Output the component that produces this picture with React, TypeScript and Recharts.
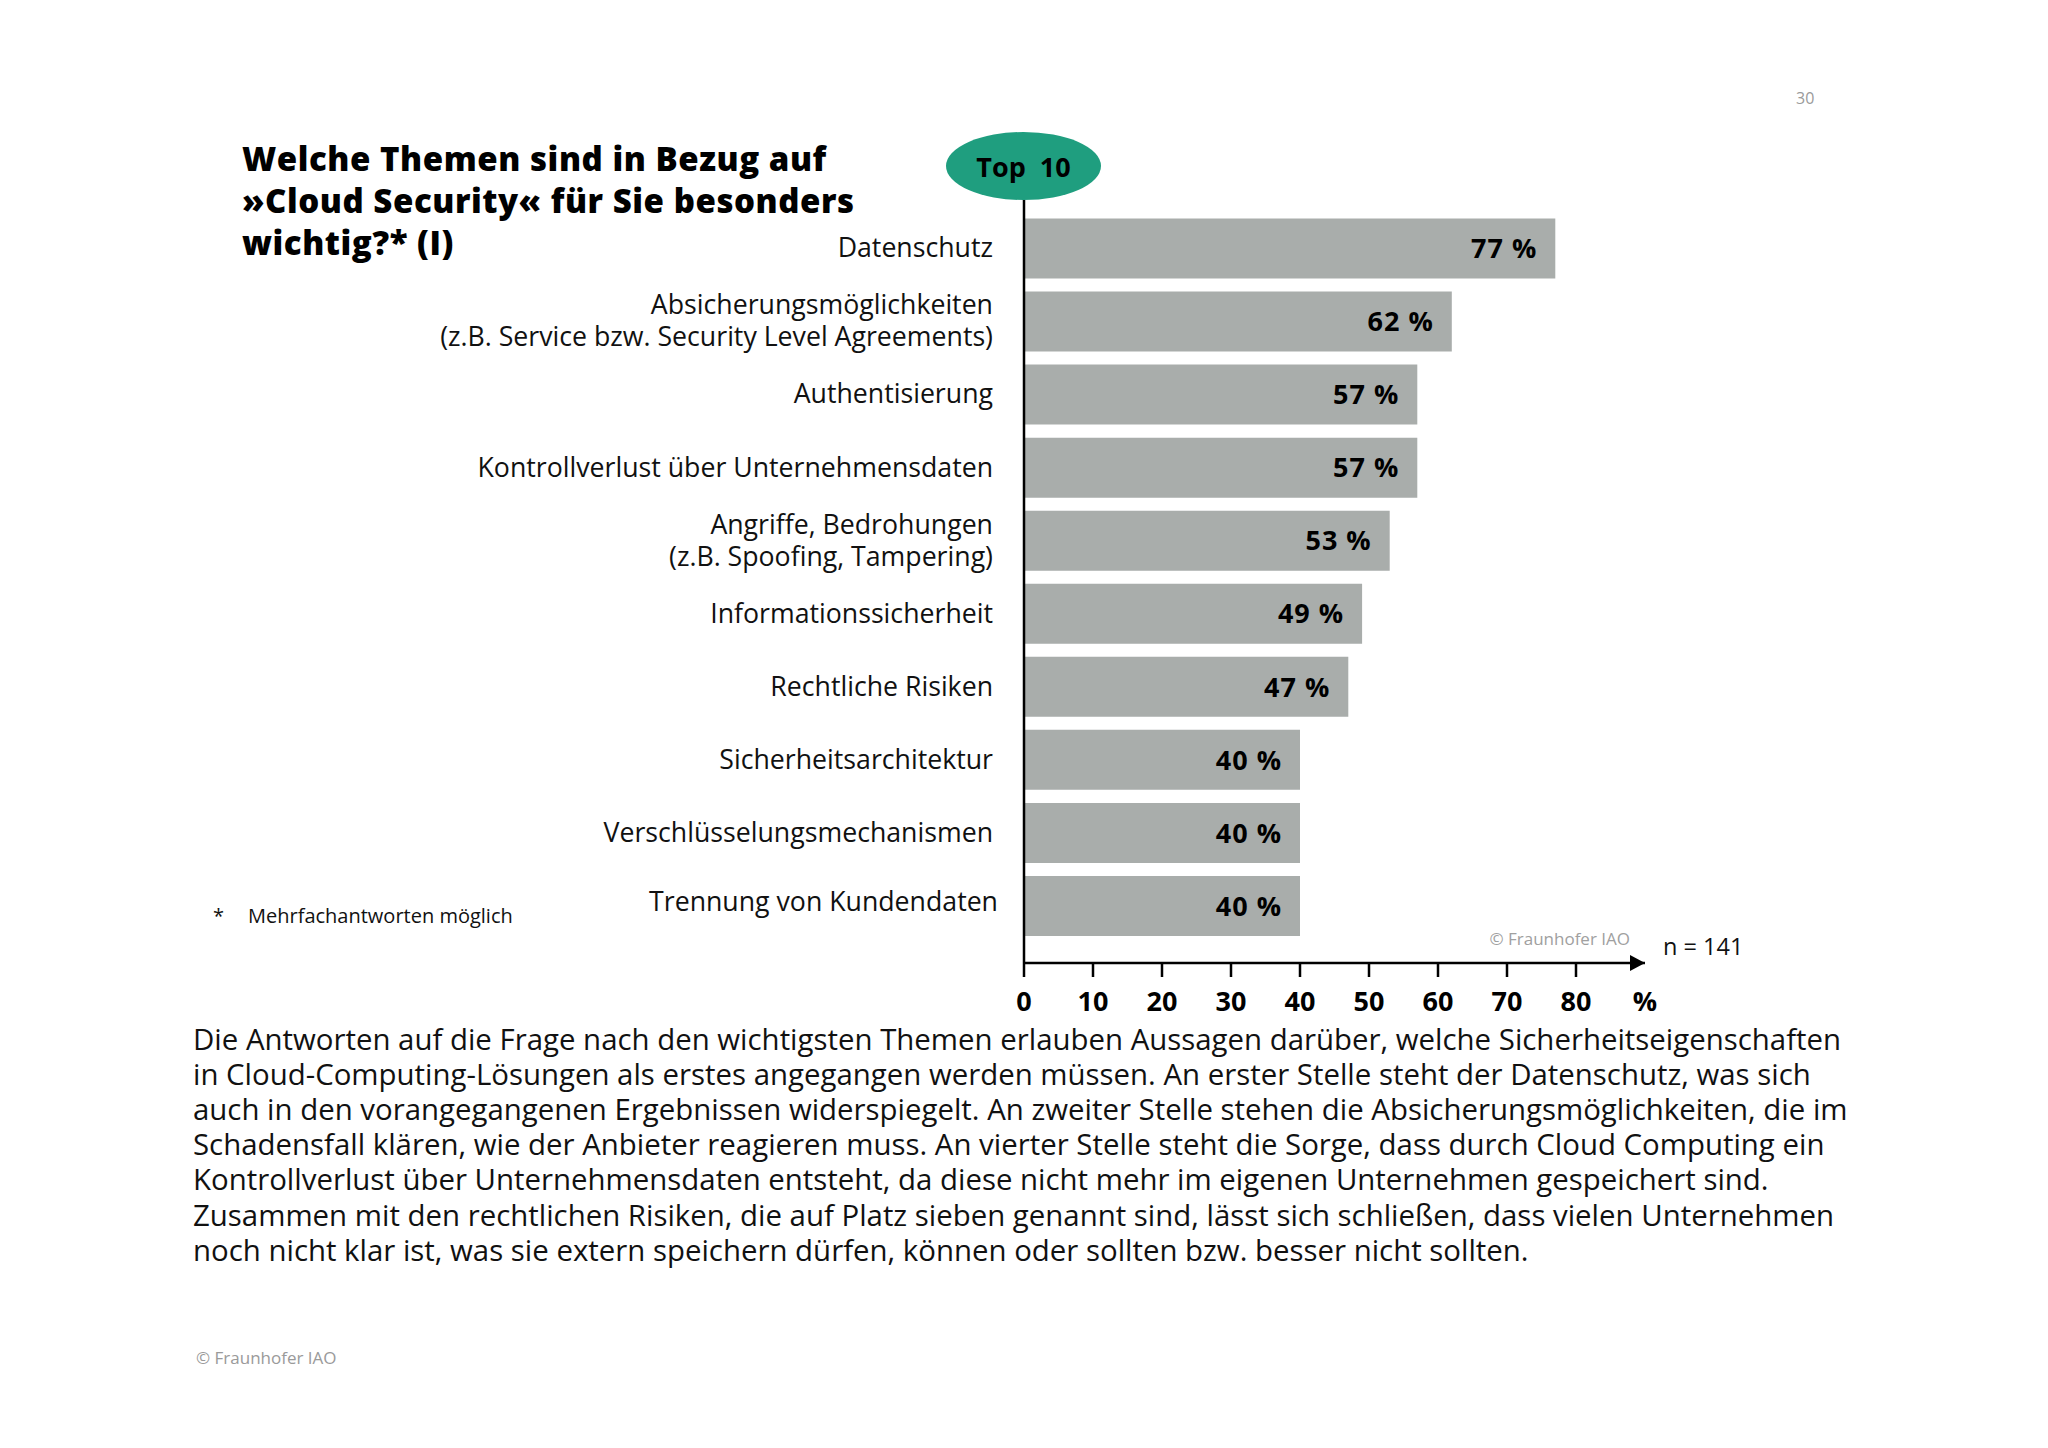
import React from 'react';
import { BarChart, Bar, XAxis, YAxis, LabelList } from 'recharts';

const categories: string[] = [
  'Datenschutz',
  'Absicherungsmöglichkeiten\n(z.B. Service bzw. Security Level Agreements)',
  'Authentisierung',
  'Kontrollverlust über Unternehmensdaten',
  'Angriffe, Bedrohungen\n(z.B. Spoofing, Tampering)',
  'Informationssicherheit',
  'Rechtliche Risiken',
  'Sicherheitsarchitektur',
  'Verschlüsselungsmechanismen',
  'Trennung von Kundendaten',
];
const values: number[] = [77, 62, 57, 57, 53, 49, 47, 40, 40, 40];
const xTicks: number[] = [0, 10, 20, 30, 40, 50, 60, 70, 80, 90];
const xTickLabels: string[] = ['0', '10', '20', '30', '40', '50', '60', '70', '80', '%'];

const titleLines: string[] = ['Welche Themen sind in Bezug auf', '»Cloud Security« für Sie besonders', 'wichtig?* (I)'];
const bodyLines: string[] = [
  'Die Antworten auf die Frage nach den wichtigsten Themen erlauben Aussagen darüber, welche Sicherheitseigenschaften',
  'in Cloud-Computing-Lösungen als erstes angegangen werden müssen. An erster Stelle steht der Datenschutz, was sich',
  'auch in den vorangegangenen Ergebnissen widerspiegelt. An zweiter Stelle stehen die Absicherungsmöglichkeiten, die im',
  'Schadensfall klären, wie der Anbieter reagieren muss. An vierter Stelle steht die Sorge, dass durch Cloud Computing ein',
  'Kontrollverlust über Unternehmensdaten entsteht, da diese nicht mehr im eigenen Unternehmen gespeichert sind.',
  'Zusammen mit den rechtlichen Risiken, die auf Platz sieben genannt sind, lässt sich schließen, dass vielen Unternehmen',
  'noch nicht klar ist, was sie extern speichern dürfen, können oder sollten bzw. besser nicht sollten.',
];

const data = categories.map((c, i) => ({ name: c, value: values[i] }));

const FONT = '"Open Sans", "Noto Sans", sans-serif';
const BAR_COLOR = '#a9adab';
const TEAL = '#1f9e7f';

const XTick = (props: any) => {
  const { x, y, payload } = props;
  const idx = xTicks.indexOf(payload.value);
  const label = xTickLabels[idx] ?? String(payload.value);
  const last = payload.value === xTicks[xTicks.length - 1];
  return (
    <g>
      {!last && <line x1={x} x2={x} y1={y} y2={y + 14} stroke="#000" strokeWidth={2.5} />}
      {last && <path d={`M${x - 15},${y - 8} L${x},${y} L${x - 15},${y + 8} Z`} fill="#000" />}
      <text x={x} y={y + 48} textAnchor="middle" fontFamily={FONT} fontWeight={700} fontSize={27} fill="#000">
        {label}
      </text>
    </g>
  );
};

const YTick = (props: any) => {
  const { x, y, payload, index } = props;
  const lines = String(payload.value).split('\n');
  const lh = 32;
  const isLast = index === categories.length - 1;
  const tx = isLast ? x + 5 : x;
  const start = y - ((lines.length - 1) * lh) / 2 - (isLast ? 4 : 0);
  return (
    <text x={tx} y={start} textAnchor="end" fontFamily={FONT} fontSize={26.7} fill="#111">
      {lines.map((l, i) => (
        <tspan key={i} x={tx} y={start + i * lh} dy="0.35em">
          {l}
        </tspan>
      ))}
    </text>
  );
};

const ValueLabel = (props: any) => {
  const { x, y, width, height, value } = props;
  return (
    <text
      x={x + width - 18}
      y={y + height / 2}
      dy="0.36em"
      textAnchor="end"
      fontFamily={FONT}
      fontWeight={700}
      fontSize={27}
      letterSpacing={1}
      fill="#000"
    >
      {`${value} %`}
    </text>
  );
};

const abs = (style: React.CSSProperties): React.CSSProperties => ({ position: 'absolute', whiteSpace: 'nowrap', ...style });

export default function App() {
  return (
    <div style={{ position: 'absolute', left: 0, top: 0, width: 2048, height: 1448, background: '#fff', fontFamily: FONT, overflow: 'hidden' }}>
      <div style={{ position: 'absolute', left: 0, top: 0 }}>
        <BarChart
          width={2048}
          height={1448}
          data={data}
          layout="vertical"
          margin={{ top: 200, right: 403, bottom: 445, left: 224 }}
        >
          <XAxis
            type="number"
            domain={[0, 90]}
            ticks={xTicks}
            interval={0}
            height={40}
            tickSize={0}
            tickMargin={0}
            tickLine={false}
            axisLine={{ stroke: '#000', strokeWidth: 2.5 }}
            tick={<XTick />}
          />
          <YAxis
            type="category"
            dataKey="name"
            width={800}
            interval={0}
            tickSize={0}
            tickMargin={31}
            tickLine={false}
            padding={{ top: 11.5, bottom: 21 }}
            axisLine={{ stroke: '#000', strokeWidth: 2.5 }}
            tick={<YTick />}
          />
          <Bar dataKey="value" fill={BAR_COLOR} barSize={60} isAnimationActive={false}>
            <LabelList dataKey="value" content={<ValueLabel />} />
          </Bar>
        </BarChart>
      </div>

      {titleLines.map((t, i) => (
        <div key={i} style={abs({ left: 242, top: 138 + i * 42, fontSize: 33, lineHeight: '42px', fontWeight: 800, letterSpacing: '0.55px', color: '#000' })}>
          {t}
        </div>
      ))}

      <div
        style={abs({
          left: 946,
          top: 132,
          width: 155,
          height: 68,
          borderRadius: '50%',
          background: TEAL,
          display: 'flex',
          alignItems: 'center',
          justifyContent: 'center',
          fontSize: 27,
          fontWeight: 700,
          color: '#000',
        })}
      >
        {'Top\u00a0\u00a010'}
      </div>

      <div style={abs({ left: 213, top: 903, fontSize: 20, lineHeight: '26px', color: '#111' })}>*</div>
      <div style={abs({ left: 248, top: 903, fontSize: 20, lineHeight: '26px', color: '#111' })}>Mehrfachantworten möglich</div>

      <div style={abs({ right: 418, top: 927, fontSize: 17, lineHeight: '24px', color: '#a0a0a0' })}>© Fraunhofer IAO</div>
      <div style={abs({ left: 1663, top: 931, fontSize: 23.5, lineHeight: '30px', color: '#111' })}>n = 141</div>

      <div style={abs({ left: 1796, top: 87, fontSize: 16, lineHeight: '22px', color: '#9a9a9a' })}>30</div>

      {bodyLines.map((t, i) => (
        <div key={i} style={abs({ left: 193, top: 1022 + i * 35.1, fontSize: 29.4, lineHeight: '35px', color: '#111' })}>
          {t}
        </div>
      ))}

      <div style={abs({ left: 196, top: 1347, fontSize: 17, lineHeight: '22px', color: '#9a9a9a' })}>© Fraunhofer IAO</div>
    </div>
  );
}
